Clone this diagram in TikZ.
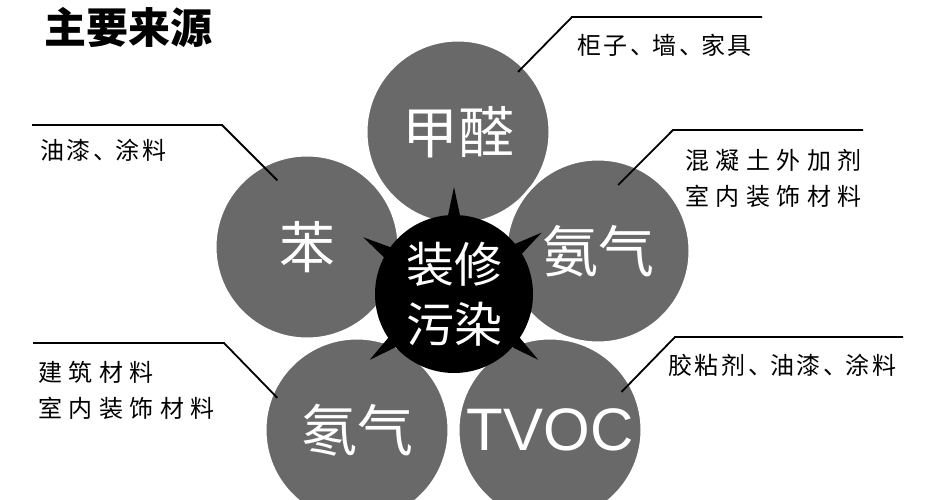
\documentclass[tikz,border=0pt]{standalone}
\usepackage{fontspec}
\setmainfont{Liberation Sans}
\newfontfamily\cjk{Noto Sans CJK SC}
\newfontfamily\cjkmid[LetterSpace=11]{Noto Sans CJK SC}
\newfontfamily\cjkwide[LetterSpace=27]{Noto Sans CJK SC}
\newcommand\dun{、\kern-2pt}
\begin{document}
\begin{tikzpicture}[x=1pt,y=1pt,
    ball/.style={circle,fill=black!59,draw=white,line width=3pt,minimum size=184pt,inner sep=0pt,
        text=white,font=\cjk\fontsize{56}{60}\selectfont},
    core/.style={circle,fill=black,minimum size=158pt,inner sep=0pt,text=white,align=center,
        font=\cjk\fontsize{48}{60}\selectfont},
    leader/.style={line width=1.8pt},
    src/.style={inner sep=0pt,anchor=west,align=left,font=\cjkmid\fontsize{24}{36}\selectfont},
    srcwide/.style={src,font=\cjkwide\fontsize{24}{36}\selectfont}]
    \useasboundingbox (0,0) rectangle (931,-500);
    \node[inner sep=0pt,anchor=west,font=\cjk\bfseries\fontsize{42}{42}\selectfont] (title) at (44,-27) {主要来源};
    % petals
    \node[ball] (hcho) at (458,-132) {甲醛};
    \node[ball] (benz) at (307,-247) {苯};
    \node[ball] (nh3) at (598,-251) {氨气};
    \node[ball] (rn) at (357,-430) {氡气};
    \node[ball,font=\fontsize{60}{60}\selectfont] (tvoc) at (550,-430) {TVOC};
    % spikes, then the core
    \coordinate (mid) at (454,-294);
    \foreach \a in {90,148,35,218,322}
        \fill ([shift={(\a+5:76)}]mid) -- ([shift={(\a:107)}]mid) -- ([shift={(\a-5:76)}]mid) -- cycle;
    \node[core] (core) at (mid) {装修\\污染};
    % leaders
    \coordinate (hchoK) at (572,-17);  \coordinate (hchoE) at (762,-17);
    \coordinate (benzK) at (222,-125); \coordinate (benzE) at (32,-125);
    \coordinate (nh3K) at (673,-130);  \coordinate (nh3E) at (863,-130);
    \coordinate (rnK) at (224,-343);   \coordinate (rnE) at (33,-343);
    \coordinate (tvocK) at (675,-337); \coordinate (tvocE) at (903,-337);
    \draw[leader] ([shift={(45:85)}]hcho.center) -- (hchoK) -- (hchoE);
    \draw[leader] ([shift={(114:73)}]benz.center) -- (benzK) -- (benzE);
    \draw[leader] ([shift={(73:69)}]nh3.center) -- (nh3K) -- (nh3E);
    \draw[leader] ([shift={(158:86)}]rn.center) -- (rnK) -- (rnE);
    \draw[leader] ([shift={(28:81)}]tvoc.center) -- (tvocK) -- (tvocE);
    % sources
    \node[src] (hchoT) at (577,-45) {柜子\dun 墙\dun 家具};
    \node[src] (benzT) at (40,-150) {油漆\dun 涂料};
    \node[srcwide] (nh3T) at (685,-178) {混凝土外加剂\\室内装饰材料};
    \node[srcwide] (rnT) at (38,-390) {建筑材料\\室内装饰材料};
    \node[src] (tvocT) at (668,-365) {胶粘剂\dun 油漆\dun 涂料};
\end{tikzpicture}
\end{document}
